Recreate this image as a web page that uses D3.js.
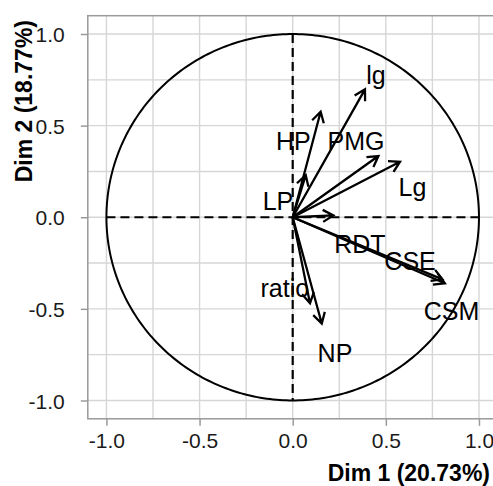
<!DOCTYPE html>
<html>
<head>
<meta charset="utf-8">
<script src="https://cdn.jsdelivr.net/npm/d3@7"></script>
<style>
  body { margin: 0; background: #fff; }
  svg { display: block; font-family: "Liberation Sans", Arial, sans-serif; }
</style>
</head>
<body>
<svg id="chart"></svg>
<script>
// Variables and their coordinates on Dim 1 / Dim 2
const varNames = ["lg", "HP", "PMG", "Lg", "LP", "RDT", "CSE", "CSM", "ratio", "NP"];
const dim1 = [0.388, 0.150, 0.460, 0.576, 0.070, 0.218, 0.804, 0.817, 0.093, 0.156];
const dim2 = [0.698, 0.576, 0.334, 0.303, 0.230, 0.010, -0.339, -0.360, -0.470, -0.580];
// where the (repelled) labels sit, in the same units
const labelX = [0.447, 0.004, 0.340, 0.643, -0.079, 0.361, 0.630, 0.853, -0.042, 0.227];
const labelY = [0.727, 0.367, 0.367, 0.116, 0.040, -0.195, -0.288, -0.561, -0.434, -0.788];

const majorTicks = [-1.0, -0.5, 0.0, 0.5, 1.0];
const minorTicks = [-0.75, -0.25, 0.25, 0.75];
const xTitle = "Dim 1 (20.73%)";
const yTitle = "Dim 2 (18.77%)";

const W = 493, H = 486;
const svg = d3.select("#chart").attr("width", W).attr("height", H);

const x = d3.scaleLinear().domain([-1.1, 1.1]).range([87.8, 497.6]);
const y = d3.scaleLinear().domain([-1.1, 1.1]).range([418.8, 15.7]);

const gridColor = "#d6d6d6";
const frameColor = "#9a9a9a";

// clip everything inside the panel
svg.append("clipPath").attr("id", "panel")
  .append("rect")
    .attr("x", x(-1.1)).attr("y", y(1.1))
    .attr("width", x(1.1) - x(-1.1)).attr("height", y(-1.1) - y(1.1));

const panel = svg.append("g").attr("clip-path", "url(#panel)");

// grid lines
const allTicks = majorTicks.concat(minorTicks);
panel.selectAll("line.gx").data(allTicks).enter().append("line")
  .attr("x1", d => x(d)).attr("x2", d => x(d))
  .attr("y1", y(1.1)).attr("y2", y(-1.1))
  .attr("stroke", gridColor).attr("stroke-width", 1.4);
panel.selectAll("line.gy").data(allTicks).enter().append("line")
  .attr("y1", d => y(d)).attr("y2", d => y(d))
  .attr("x1", x(-1.1)).attr("x2", x(1.1))
  .attr("stroke", gridColor).attr("stroke-width", 1.4);

// unit circle
const circ = d3.range(0, 2 * Math.PI + 0.01, Math.PI / 180);
panel.append("path")
  .datum(circ)
  .attr("d", d3.line().x(t => x(Math.cos(t))).y(t => y(Math.sin(t))))
  .attr("fill", "none").attr("stroke", "#000").attr("stroke-width", 2);

// dashed axes through origin
panel.append("line")
  .attr("x1", x(-1)).attr("x2", x(1)).attr("y1", y(0)).attr("y2", y(0))
  .attr("stroke", "#000").attr("stroke-width", 2.2).attr("stroke-dasharray", "9,5");
panel.append("line")
  .attr("x1", x(0)).attr("x2", x(0)).attr("y1", y(1)).attr("y2", y(-1))
  .attr("stroke", "#000").attr("stroke-width", 2.2).attr("stroke-dasharray", "9,5");

// arrows
const headLen = 12, headAng = Math.PI / 6;
varNames.forEach((name, i) => {
  const x0 = x(0), y0 = y(0), x1 = x(dim1[i]), y1 = y(dim2[i]);
  const a = Math.atan2(y1 - y0, x1 - x0);
  const p = d3.path();
  p.moveTo(x0, y0); p.lineTo(x1, y1);
  p.moveTo(x1 - headLen * Math.cos(a - headAng), y1 - headLen * Math.sin(a - headAng));
  p.lineTo(x1, y1);
  p.lineTo(x1 - headLen * Math.cos(a + headAng), y1 - headLen * Math.sin(a + headAng));
  panel.append("path")
    .attr("d", p.toString())
    .attr("fill", "none").attr("stroke", "#000")
    .attr("stroke-width", 2.3).attr("stroke-linejoin", "miter");
});

// labels
panel.selectAll("text.lab").data(varNames).enter().append("text")
  .attr("x", (d, i) => x(labelX[i]))
  .attr("y", (d, i) => y(labelY[i]))
  .attr("text-anchor", "middle")
  .attr("font-size", 25)
  .attr("fill", "#000")
  .text(d => d);

// panel border
svg.append("rect")
  .attr("x", x(-1.1)).attr("y", y(1.1))
  .attr("width", x(1.1) - x(-1.1)).attr("height", y(-1.1) - y(1.1))
  .attr("fill", "none").attr("stroke", frameColor).attr("stroke-width", 1.5);

// axes (plain hyphen for negatives, like R)
const fmt = d => d.toFixed(1);
const xAxis = svg.append("g")
  .attr("transform", `translate(0,${y(-1.1)})`)
  .call(d3.axisBottom(x).tickValues(majorTicks).tickFormat(fmt).tickSize(7).tickPadding(7));
const yAxis = svg.append("g")
  .attr("transform", `translate(${x(-1.1)},0)`)
  .call(d3.axisLeft(y).tickValues(majorTicks).tickFormat(fmt).tickSize(7).tickPadding(16));
[xAxis, yAxis].forEach(g => {
  g.select(".domain").remove();
  g.selectAll(".tick line").attr("stroke", frameColor).attr("stroke-width", 1.5);
  g.selectAll(".tick text")
    .attr("font-size", 21).attr("fill", "#1a1a1a")
    .attr("font-family", "Liberation Sans, Arial, sans-serif");
});
yAxis.selectAll(".tick text").attr("dy", "0.36em");

// axis titles
svg.append("text")
  .attr("x", 490).attr("y", 481)
  .attr("text-anchor", "end")
  .attr("font-size", 23).attr("font-weight", "bold")
  .text(xTitle);
svg.append("text")
  .attr("transform", "translate(32,20) rotate(-90)")
  .attr("text-anchor", "end")
  .attr("font-size", 23).attr("font-weight", "bold")
  .text(yTitle);
</script>
</body>
</html>
